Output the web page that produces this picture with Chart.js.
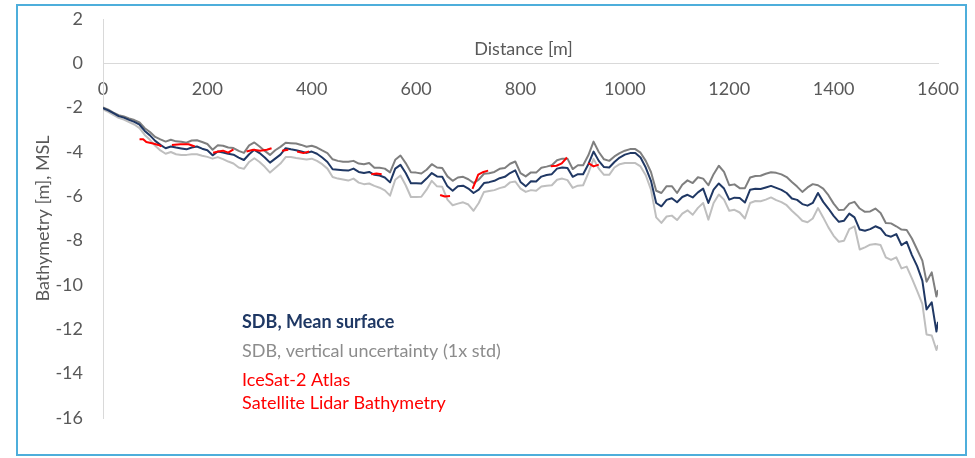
<!DOCTYPE html>
<html>
<head>
<meta charset="utf-8">
<script src="https://cdn.jsdelivr.net/npm/chart.js@4/dist/chart.umd.min.js"></script>
<style>
  html, body { margin: 0; padding: 0; background: #ffffff; }
  #wrap { position: relative; width: 975px; height: 458px; }
</style>
</head>
<body>
<div id="wrap"><canvas id="c" width="975" height="458"></canvas></div>
<script>
// Profile positions along the transect [m]
const distance = [
  0, 10, 20, 30, 40, 50, 60, 70, 80, 90,
  100, 110, 120, 130, 140, 150, 160, 170, 180, 190,
  200, 210, 220, 230, 240, 250, 260, 270, 280, 290,
  300, 310, 320, 330, 340, 350, 360, 370, 380, 390,
  400, 410, 420, 430, 440, 450, 460, 470, 480, 490,
  500, 510, 520, 530, 540, 550, 560, 570, 580, 590,
  600, 610, 620, 630, 640, 650, 660, 670, 680, 690,
  700, 710, 720, 730, 740, 750, 760, 770, 780, 790,
  800, 810, 820, 830, 840, 850, 860, 870, 880, 890,
  900, 910, 920, 930, 940, 950, 960, 970, 980, 990,
  1000, 1010, 1020, 1030, 1040, 1050, 1060, 1070, 1080, 1090,
  1100, 1110, 1120, 1130, 1140, 1150, 1160, 1170, 1180, 1190,
  1200, 1210, 1220, 1230, 1240, 1250, 1260, 1270, 1280, 1290,
  1300, 1310, 1320, 1330, 1340, 1350, 1360, 1370, 1380, 1390,
  1400, 1410, 1420, 1430, 1440, 1450, 1460, 1470, 1480, 1490,
  1500, 1510, 1520, 1530, 1540, 1550, 1560, 1570, 1578, 1588,
  1597, 1600
];

// SDB mean surface [m, MSL]
const sdbMean = [
  -2.02, -2.12, -2.25, -2.38, -2.45, -2.55, -2.64, -2.77, -3.05, -3.25,
  -3.50, -3.68, -3.83, -3.75, -3.80, -3.84, -3.88, -3.80, -3.75, -3.85,
  -3.92, -4.15, -3.98, -4.02, -4.08, -4.12, -4.25, -4.36, -4.10, -3.90,
  -4.05, -4.25, -4.48, -4.30, -4.12, -3.83, -3.88, -3.92, -3.98, -4.04,
  -3.98, -4.08, -4.25, -4.45, -4.78, -4.80, -4.82, -4.84, -4.75, -4.90,
  -4.95, -4.90, -5.03, -5.06, -5.15, -5.37, -4.75, -4.58, -4.95, -5.41,
  -5.41, -5.42, -5.20, -4.95, -5.10, -5.12, -5.55, -5.75, -5.55, -5.52,
  -5.65, -5.85, -5.70, -5.40, -5.36, -5.30, -5.18, -5.12, -4.95, -4.83,
  -5.35, -5.55, -5.32, -5.33, -5.11, -5.04, -5.00, -4.75, -4.70, -4.72,
  -5.12, -5.00, -5.00, -4.55, -3.98, -4.40, -4.68, -4.70, -4.45, -4.25,
  -4.12, -4.05, -4.05, -4.25, -4.70, -5.30, -6.30, -6.45, -6.16, -6.09,
  -6.27, -6.03, -5.93, -6.05, -5.82, -5.65, -6.30, -5.70, -5.42, -5.65,
  -6.15, -6.06, -6.08, -6.28, -5.70, -5.66, -5.67, -5.60, -5.53, -5.62,
  -5.71, -5.85, -6.10, -6.16, -6.35, -6.42, -6.30, -5.85, -6.25, -6.55,
  -6.88, -7.15, -7.10, -6.78, -6.95, -7.50, -7.55, -7.48, -7.35, -7.45,
  -7.75, -7.82, -7.70, -8.20, -8.05, -8.65, -9.15, -9.80, -11.10, -10.78,
  -12.10, -11.66
];

// SDB upper bound (mean + 1x std) [m, MSL]
const sdbUpper = [
  -1.99, -2.09, -2.22, -2.34, -2.40, -2.49, -2.56, -2.67, -2.93, -3.10,
  -3.32, -3.43, -3.53, -3.45, -3.52, -3.54, -3.58, -3.48, -3.47, -3.55,
  -3.64, -3.90, -3.70, -3.72, -3.80, -3.82, -3.95, -4.04, -3.70, -3.57,
  -3.75, -3.95, -4.13, -3.92, -3.77, -3.58, -3.60, -3.62, -3.68, -3.76,
  -3.72, -3.80, -3.93, -4.05, -4.33, -4.40, -4.44, -4.44, -4.40, -4.52,
  -4.55, -4.50, -4.71, -4.71, -4.75, -4.92, -4.35, -4.16, -4.50, -4.91,
  -4.93, -4.97, -4.80, -4.55, -4.70, -4.72, -5.10, -5.30, -5.15, -5.12,
  -5.23, -5.40, -5.25, -4.98, -4.96, -4.90, -4.76, -4.72, -4.53, -4.43,
  -4.95, -5.10, -4.92, -4.93, -4.71, -4.66, -4.60, -4.37, -4.30, -4.30,
  -4.77, -4.60, -4.60, -4.15, -3.53, -4.00, -4.33, -4.40, -4.20, -4.05,
  -3.94, -3.87, -3.87, -4.03, -4.40, -4.90, -5.75, -5.85, -5.54, -5.54,
  -5.85, -5.48, -5.28, -5.40, -5.14, -5.20, -5.50, -5.00, -4.62, -4.90,
  -5.50, -5.46, -5.63, -5.63, -5.15, -5.08, -5.07, -4.98, -4.91, -4.94,
  -5.01, -5.13, -5.35, -5.56, -5.80, -5.60, -5.45, -5.50, -5.65, -5.95,
  -6.33, -6.62, -6.60, -6.33, -6.25, -6.55, -6.70, -6.68, -6.55, -6.75,
  -7.20, -7.22, -7.35, -7.50, -7.52, -7.90, -8.40, -8.90, -9.85, -9.43,
  -10.52, -10.23
];

// SDB lower bound (mean - 1x std) [m, MSL]
const sdbLower = [
  -2.08, -2.19, -2.33, -2.46, -2.54, -2.65, -2.76, -2.92, -3.23, -3.45,
  -3.72, -3.93, -4.08, -4.00, -4.10, -4.14, -4.13, -4.10, -4.10, -4.17,
  -4.22, -4.30, -4.23, -4.32, -4.43, -4.52, -4.70, -4.76, -4.45, -4.28,
  -4.45, -4.67, -4.93, -4.72, -4.52, -4.23, -4.23, -4.27, -4.30, -4.34,
  -4.30, -4.40, -4.55, -4.75, -5.13, -5.20, -5.24, -5.29, -5.20, -5.38,
  -5.45, -5.42, -5.53, -5.61, -5.73, -5.97, -5.25, -5.06, -5.50, -6.03,
  -6.03, -6.02, -5.70, -5.30, -5.55, -5.57, -6.15, -6.40, -6.33, -6.27,
  -6.37, -6.65, -6.30, -5.80, -5.76, -5.72, -5.63, -5.57, -5.37, -5.33,
  -5.65, -5.80, -5.72, -5.75, -5.56, -5.52, -5.50, -5.25, -5.20, -5.27,
  -5.62, -5.52, -5.50, -4.95, -4.31, -4.75, -5.03, -5.03, -4.70, -4.55,
  -4.50, -4.50, -4.50, -4.65, -5.05, -5.70, -6.95, -7.20, -6.91, -6.87,
  -7.07, -6.78, -6.63, -6.83, -6.52, -6.30, -7.05, -6.30, -5.92, -6.15,
  -6.65, -6.61, -6.73, -7.00, -6.30, -6.21, -6.22, -6.15, -6.05, -6.17,
  -6.26, -6.40, -6.65, -6.86, -7.10, -7.17, -7.00, -6.53, -6.95, -7.40,
  -7.78, -8.05, -8.00, -7.48, -7.35, -8.40, -8.30, -8.18, -8.15, -8.20,
  -8.75, -8.87, -8.75, -9.25, -9.17, -9.70, -10.27, -10.85, -12.23, -12.28,
  -12.93, -12.71
];

// IceSat-2 lidar bathymetry tracks (null separates segments)
const iceDist = [
  70, 77, 83, 96, 106, 112, null,
  132, 148, 164, 176, null,
  211, 221, 230, 240, 250, null,
  275, 288, 301, 314, 323, null,
  343, 355, null,
  372, 384, 395, null,
  514, 524, 534, null,
  646, 655, 665, null,
  708, 714, 719, 729, 738, null,
  858, 869, 879, 889, null,
  930, 940, 950
];
const iceDepth = [
  -3.42, -3.42, -3.55, -3.62, -3.68, -3.75, null,
  -3.68, -3.65, -3.65, -3.75, null,
  -4.03, -3.98, -3.94, -4.03, -3.88, null,
  -3.98, -3.90, -3.94, -3.90, -3.83, null,
  -3.94, -3.90, null,
  -3.98, -4.05, -3.98, null,
  -5.00, -4.97, -5.00, null,
  -5.94, -6.01, -5.98, null,
  -5.66, -5.32, -5.02, -4.90, -4.84, null,
  -4.64, -4.62, -4.51, -4.25, null,
  -4.50, -4.65, -4.57
];

// Axis ticks
const xTicks = [0, 200, 400, 600, 800, 1000, 1200, 1400, 1600];
const yTicks = [2, 0, -2, -4, -6, -8, -10, -12, -14, -16];

const legendItems = [
  { text: 'SDB, Mean surface', color: '#1f3864', bold: true },
  { text: 'SDB, vertical uncertainty (1x std)', color: '#8c8c8c', bold: false },
  { text: 'IceSat-2 Atlas', color: '#ff0000', bold: false },
  { text: 'Satellite Lidar Bathymetry', color: '#ff0000', bold: false }
];

const FONT = 'Lato, "Open Sans", sans-serif';
const FONT_SIZE = 18;
const AXIS_GREY = '#595959';

// Gap entries keep the previous distance with an empty depth, so the line breaks there
function toPoints(xs, ys) {
  return xs.map((x, i) => {
    if (x === null || ys[i] === null) return { x: xs[i - 1], y: null };
    return { x: x, y: ys[i] };
  });
}

const frameAndText = {
  id: 'frameAndText',
  beforeDraw(chart) {
    const ctx = chart.ctx;
    ctx.save();
    ctx.fillStyle = '#ffffff';
    ctx.fillRect(0, 0, chart.width, chart.height);
    ctx.restore();
  },
  afterDraw(chart) {
    const ctx = chart.ctx;
    const xs = chart.scales.x;
    const ys = chart.scales.y;
    ctx.save();
    // outer frame
    ctx.strokeStyle = '#4eaedb';
    ctx.lineWidth = 2;
    ctx.strokeRect(17, 5, 949, 450);

    // horizontal axis title, above the zero line
    ctx.fillStyle = AXIS_GREY;
    ctx.font = FONT_SIZE + 'px ' + FONT;
    ctx.textAlign = 'center';
    ctx.textBaseline = 'middle';
    ctx.fillText('Distance [m]', (xs.left + xs.right) / 2 + 3, ys.getPixelForValue(0) - 14);

    // vertical axis title, centred on the plot height
    ctx.save();
    ctx.translate(43, (ys.top + ys.bottom) / 2);
    ctx.rotate(-Math.PI / 2);
    ctx.fillText('Bathymetry [m], MSL', 0, 0);
    ctx.restore();

    // legend block inside the plot
    const lx = 242;
    const ly = [322, 351, 380, 403];
    ctx.textAlign = 'left';
    legendItems.forEach((item, i) => {
      ctx.font = (item.bold ? 'bold ' : '') + FONT_SIZE + 'px ' + FONT;
      ctx.fillStyle = item.color;
      ctx.fillText(item.text, lx, ly[i]);
    });
    ctx.restore();
  }
};

new Chart(document.getElementById('c'), {
  type: 'line',
  data: {
    datasets: [
      {
        label: 'IceSat-2 Atlas Satellite Lidar Bathymetry',
        data: toPoints(iceDist, iceDepth),
        borderColor: '#ff0000',
        borderWidth: 2,
        pointRadius: 0,
        spanGaps: false
      },
      {
        label: 'SDB, Mean surface',
        data: toPoints(distance, sdbMean),
        borderColor: '#203864',
        borderWidth: 2,
        pointRadius: 0
      },
      {
        label: 'SDB, vertical uncertainty (1x std)',
        data: toPoints(distance, sdbUpper),
        borderColor: '#7f7f7f',
        borderWidth: 2,
        pointRadius: 0
      },
      {
        label: 'SDB, vertical uncertainty (1x std) lower',
        data: toPoints(distance, sdbLower),
        borderColor: '#bfbfbf',
        borderWidth: 2,
        pointRadius: 0
      }
    ]
  },
  options: {
    responsive: false,
    animation: false,
    events: [],
    layout: { padding: { left: 0, top: 19, right: 37, bottom: 40 } },
    elements: { line: { tension: 0, borderJoinStyle: 'round' } },
    plugins: {
      legend: { display: false },
      tooltip: { enabled: false }
    },
    scales: {
      x: {
        type: 'linear',
        min: 0,
        max: 1600,
        position: { y: 0 },
        afterBuildTicks(scale) { scale.ticks = xTicks.map(v => ({ value: v })); },
        ticks: {
          color: AXIS_GREY,
          font: { family: FONT, size: FONT_SIZE },
          padding: 15,
          maxRotation: 0,
          callback: v => String(v)
        },
        grid: { display: false, drawTicks: false },
        border: { display: true, color: '#d9d9d9', width: 1 }
      },
      y: {
        type: 'linear',
        min: -16,
        max: 2,
        afterBuildTicks(scale) { scale.ticks = yTicks.map(v => ({ value: v })); },
        afterFit(scale) { scale.width = 103; },
        ticks: {
          color: AXIS_GREY,
          font: { family: FONT, size: FONT_SIZE },
          padding: 0,
          callback: v => String(v)
        },
        // tick marks are hidden; their length only sets the label gap
        grid: { display: false, drawTicks: true, tickLength: 20 },
        border: { display: true, color: '#d9d9d9', width: 1 }
      }
    }
  },
  plugins: [frameAndText]
});
</script>
</body>
</html>
